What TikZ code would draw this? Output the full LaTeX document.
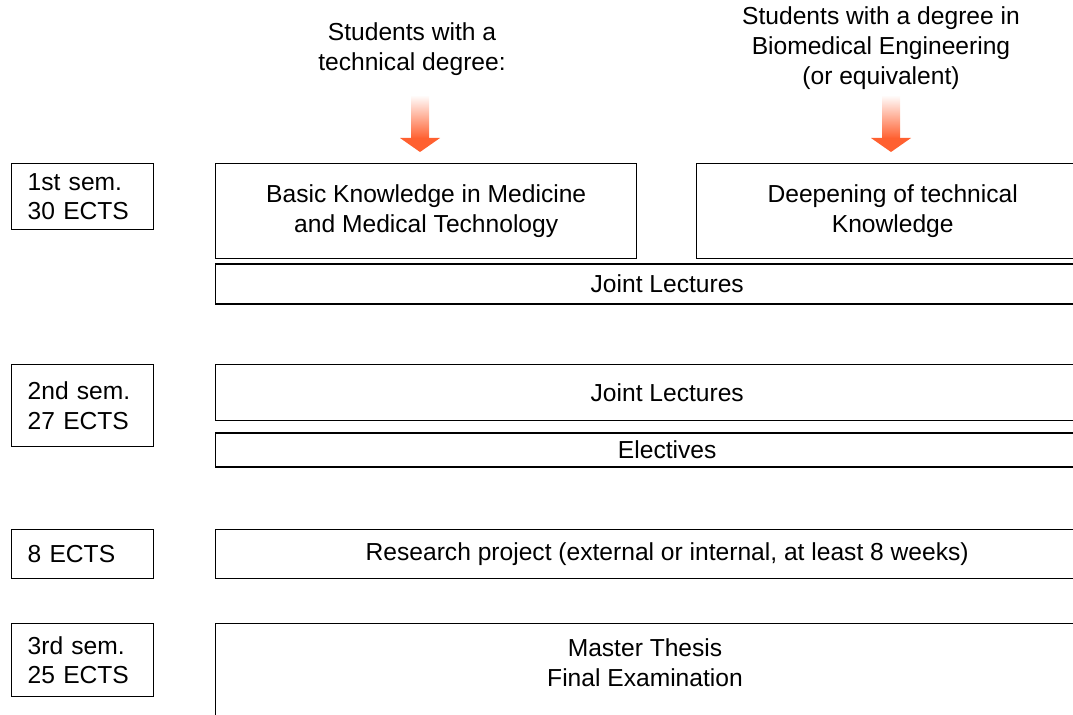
\documentclass[tikz,border=0pt]{standalone}
\usepackage{fontspec}
\setmainfont{Liberation Sans}
\usetikzlibrary{positioning}
\definecolor{arroworange}{RGB}{255,96,48}

\begin{document}
\begin{tikzpicture}[
 font=\fontsize{14}{17}\selectfont,
 sembox/.style={draw,line width=0.8pt,anchor=north west,minimum width=2.84cm,
        text width=2.2cm,inner xsep=0.32cm,align=left},
 modbox/.style={draw,line width=0.8pt,anchor=north west,align=center,inner sep=0pt}]

\useasboundingbox (0,0) rectangle (21.46,-14.3);
\clip (0,0) rectangle (21.46,-14.3);

% semesters
\node[sembox,minimum height=1.32cm] (sem1) at (0.22,-3.26) {1st sem.\\30 ECTS};
\node[sembox,minimum height=1.64cm] (sem2) at (0.22,-7.28) {2nd sem.\\27 ECTS};
\node[sembox,minimum height=0.98cm] (ects8) at (0.22,-10.58) {8 ECTS};
\node[sembox,minimum height=1.46cm] (sem3) at (0.22,-12.46) {3rd sem.\\25 ECTS};

% modules
\node[modbox,minimum width=8.42cm,minimum height=1.9cm] (basic) at (4.3,-3.26)
     {Basic Knowledge in Medicine\\and Medical Technology};
\node[modbox,minimum width=7.84cm,minimum height=1.9cm] (deep) at (13.92,-3.26)
     {Deepening of technical\\Knowledge};
\node[modbox,minimum width=18.06cm,minimum height=0.8cm,below=0.08cm of basic.south west,anchor=north west] (joint1)
     {Joint Lectures};
\node[modbox,minimum width=18.06cm,minimum height=1.12cm] (joint2) at (4.3,-7.28) {Joint Lectures};
\node[modbox,minimum width=18.06cm,minimum height=0.68cm,below=0.22cm of joint2.south west,anchor=north west] (elect)
     {Electives};
\node[modbox,minimum width=18.06cm,minimum height=0.98cm] (research) at (4.3,-10.58)
     {Research project (external or internal, at least 8 weeks)};
\node[modbox,minimum width=18.06cm,minimum height=3cm] (thesis) at (4.3,-12.46) {};
\node[align=center] (thesistext) at (12.9,-13.26) {Master Thesis\\Final Examination};

% entry groups
\node[align=center] (techgroup) at (8.24,-0.99) {Students with a\\technical degree:};
\node[align=center] (bmegroup) at (17.62,-0.96)
     {Students with a degree in\\Biomedical Engineering\\(or equivalent)};

\foreach \ax in {8.4,17.82}{
 \shade[top color=white,bottom color=arroworange] (\ax-0.18,-1.9) rectangle (\ax+0.18,-2.77);
 \fill[arroworange] (\ax-0.4,-2.76) -- (\ax+0.4,-2.76) -- (\ax,-3.04) -- cycle;
}
\end{tikzpicture}
\end{document}
